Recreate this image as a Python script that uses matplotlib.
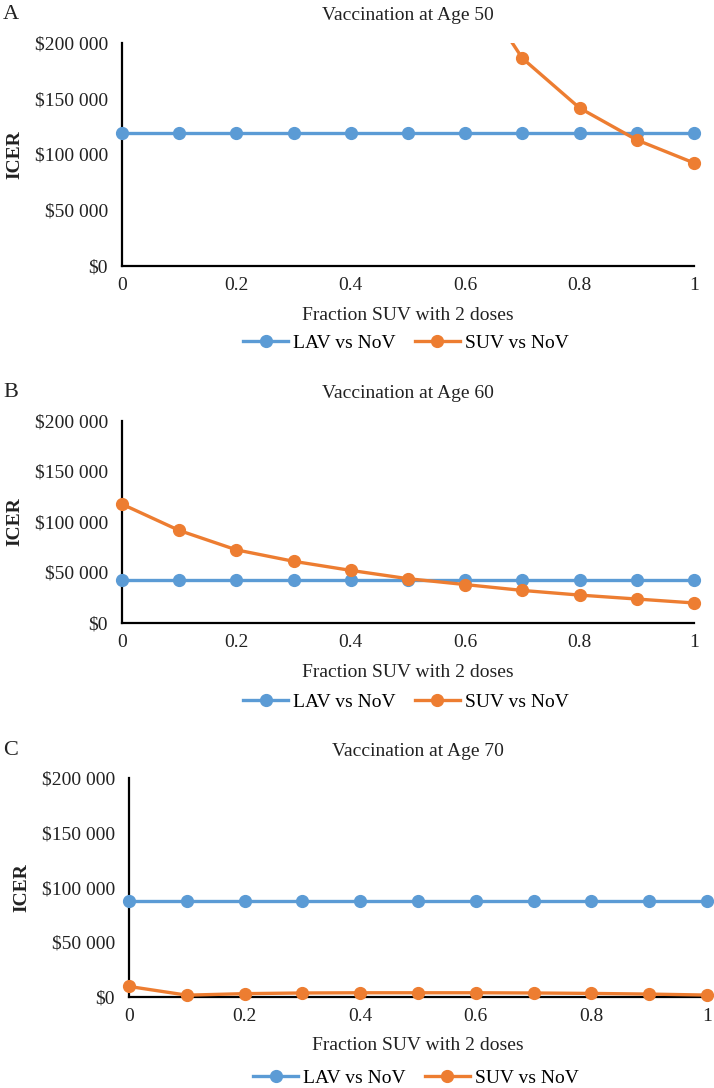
import numpy as np
import matplotlib
matplotlib.use("Agg")
import matplotlib.pyplot as plt
from matplotlib.patches import Rectangle

plt.rcParams['font.family'] = ['Liberation Serif', 'DejaVu Serif']
plt.rcParams['font.size'] = 14

# dados
frac = [0, 0.1, 0.2, 0.3, 0.4, 0.5, 0.6, 0.7, 0.8, 0.9, 1.0]
x_ticks = [0, 0.2, 0.4, 0.6, 0.8, 1]
x_tick_labels = ['0', '0.2', '0.4', '0.6', '0.8', '1']
y_ticks = [0, 50000, 100000, 150000, 200000]
y_tick_labels = ['$0', '$50 000', '$100 000', '$150 000', '$200 000']

lav_50 = [119000] * 11
suv_50 = [np.nan, np.nan, np.nan, np.nan, np.nan, np.nan, 264000, 186000, 141500, 112900, 92300]
lav_60 = [42500] * 11
suv_60 = [117500, 91500, 72300, 61000, 52000, 43800, 38000, 32200, 27600, 23700, 19800]
lav_70 = [87600] * 11
suv_70 = [9400, 1400, 2800, 3400, 3600, 3600, 3600, 3400, 3000, 2400, 1500]

letters = ['A', 'B', 'C']
titles = ['Vaccination at Age 50', 'Vaccination at Age 60', 'Vaccination at Age 70']
series = [(lav_50, suv_50), (lav_60, suv_60), (lav_70, suv_70)]

blue = '#5B9BD5'
orange = '#ED7D31'

W, H = 714, 1088
fig = plt.figure(figsize=(W / 100, H / 100), dpi=100)

# caixas dos eixos em pixels: esquerda, direita, topo, base
boxes = [(122, 694, 42.7, 266), (122, 694, 420.7, 623), (129, 707, 778.3, 996.7)]
legend_y = [343, 702, 1078]

for i in range(3):
    l, r, t, b = boxes[i]
    ax = fig.add_axes([l / W, 1 - b / H, (r - l) / W, (b - t) / H])
    lav, suv = series[i]
    clip = Rectangle((-0.05, -0.1), 1.1, 1.1, transform=ax.transAxes)
    l1, = ax.plot(frac, lav, color=blue, lw=2.4, marker='o', ms=8.5, label='LAV vs NoV', zorder=3)
    l2, = ax.plot(frac, suv, color=orange, lw=2.4, marker='o', ms=8.5, label='SUV vs NoV', zorder=4)
    l1.set_clip_path(clip)
    l2.set_clip_path(clip)
    ax.set_xlim(0, 1)
    ax.set_ylim(0, 200000)
    ax.set_xticks(x_ticks)
    ax.set_xticklabels(x_tick_labels)
    ax.set_yticks(y_ticks)
    ax.set_yticklabels(y_tick_labels)
    ax.tick_params(axis='both', length=0, colors='#222222')
    ax.tick_params(axis='y', pad=10)
    ax.tick_params(axis='x', pad=8)
    for s in ['top', 'right']:
        ax.spines[s].set_visible(False)
    for s in ['left', 'bottom']:
        ax.spines[s].set_linewidth(1.6)
        ax.spines[s].set_color('black')
        ax.spines[s].set_zorder(2)
    ax.set_xlabel('Fraction SUV with 2 doses', labelpad=9, color='#222222')
    ax.set_ylabel('ICER', fontweight='bold', labelpad=8, color='#222222')
    ax.set_title(titles[i], pad=16, fontsize=14, color='#222222')
    fig.text(3 / W, 1 - (t - 28) / H, letters[i], fontsize=16, va='center', ha='left', color='#222222')
    ax.legend(loc='center', bbox_to_anchor=(((l + r) / 2 - 2) / W, 1 - legend_y[i] / H),
              bbox_transform=fig.transFigure, ncol=2, frameon=False, handlelength=2.3,
              handletextpad=0.25, columnspacing=1.0, fontsize=14)

fig.savefig('out.png', dpi=100)
